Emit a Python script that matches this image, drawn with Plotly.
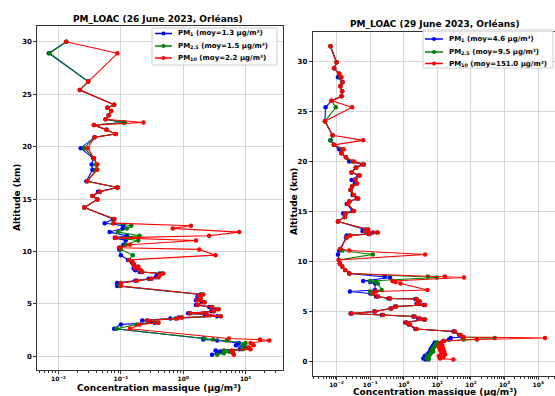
import plotly.graph_objects as go

W, H = 555, 396

# ---------------- Data: 26 June 2023 ----------------
alt_26 = [30.0, 28.9, 26.2, 25.4, 24.0, 23.7, 23.4, 23.0, 22.6, 22.3,
          22.05, 21.6, 21.2, 20.9, 19.85, 18.9, 18.3, 17.8, 16.7, 16.1,
          15.7, 15.3, 14.95, 14.2, 13.1, 12.7, 12.45, 12.2, 11.85, 11.5,
          11.3, 11.05, 10.65, 10.35, 10.2, 9.65, 9.2, 8.95, 8.75, 8.55,
          8.4, 8.2, 8.05, 7.9, 7.75, 7.55, 7.4, 7.2, 7.0, 6.7,
          5.9, 5.7, 5.5, 5.35, 5.15, 4.9, 4.7, 4.5, 4.3, 4.1,
          4.0, 3.83, 3.7, 3.6, 3.43, 3.2, 3.05, 2.63, 1.7, 1.6,
          1.52, 1.27, 1.05, 0.85, 0.67, 0.57, 0.45, 0.3, 0.15]
pm1_26 = [0.0133, 0.0070, 0.030, 0.022, 0.078, 0.061, 0.070, 0.064, 0.057, 0.110,
          0.037, 0.059, 0.082, 0.038, 0.0227, 0.036, 0.034, 0.035, 0.028, 0.087,
          0.043, 0.035, 0.042, 0.026, 0.075, 0.055, 0.11, 0.107, 0.066, 0.126,
          0.080, 0.12, 0.11, 0.094, 0.094, 0.10, 0.13, 0.15, 0.16, 0.18,
          0.16, 0.17, 0.20, 0.42, 0.38, 0.36, 0.28, 0.17, 0.087, 0.087,
          1.9, 1.7, 1.8, 1.6, 2.0, 1.6, 2.6, 3.3, 2.8, 1.2,
          2.2, 3.5, 0.85, 0.62, 0.22, 0.35, 0.10, 0.078, 2.1, 2.1,
          3.5, 7.8, 7.0, 10.0, 8.0, 3.3, 4.0, 3.5, 2.9]
pm25_26 = [0.0133, 0.0072, 0.030, 0.022, 0.078, 0.061, 0.070, 0.064, 0.057, 0.116,
           0.037, 0.059, 0.082, 0.038, 0.026, 0.037, 0.040, 0.040, 0.029, 0.089,
           0.046, 0.035, 0.042, 0.026, 0.079, 0.075, 0.147, 0.125, 0.09, 0.20,
           0.085, 0.19, 0.12, 0.096, 0.10, 0.155, 0.135, 0.155, 0.16, 0.19,
           0.17, 0.20, 0.22, 0.46, 0.42, 0.40, 0.31, 0.18, 0.10, 0.095,
           2.0, 1.8, 1.9, 1.7, 2.2, 1.7, 2.9, 3.7, 3.1, 1.3,
           2.4, 4.0, 0.95, 0.75, 0.26, 0.40, 0.18, 0.085, 2.2, 3.0,
           5.0, 10.0, 9.0, 11.0, 9.0, 4.5, 5.5, 4.5, 3.5]
pm10_26 = [0.0133, 0.088, 0.030, 0.022, 0.078, 0.061, 0.070, 0.064, 0.057, 0.23,
           0.037, 0.059, 0.082, 0.038, 0.0295, 0.037, 0.042, 0.042, 0.029, 0.089,
           0.046, 0.035, 0.042, 0.026, 0.079, 0.077, 1.33, 0.68, 7.9, 2.6,
           0.083, 1.6, 0.14, 0.095, 1.8, 3.3, 0.135, 0.155, 0.16, 0.19,
           0.17, 0.21, 0.22, 0.48, 0.42, 0.40, 0.31, 0.18, 0.10, 0.10,
           2.1, 1.8, 1.9, 1.7, 2.2, 1.7, 2.9, 3.7, 3.1, 1.3,
           2.4, 4.0, 0.95, 0.80, 0.27, 0.40, 0.20, 0.14, 5.4, 17.0,
           24.0, 12.0, 13.5, 11.0, 12.0, 6.0, 6.2, 6.3, 6.5]

# ---------------- Data: 29 June 2023 ----------------
alt_29 = [31.5, 29.9, 29.3, 28.75, 28.4, 27.9, 27.5, 27.0, 26.5, 26.05,
          25.4, 24.0, 22.6, 22.1, 21.65, 21.2, 20.8, 20.4, 20.0, 19.7,
          19.4, 18.9, 18.6, 18.15, 17.8, 17.5, 17.15, 16.65, 16.3, 16.0,
          15.75, 15.05, 14.8, 14.45, 14.0, 13.2, 13.05, 12.9, 12.75, 12.6,
          12.4, 11.25, 11.1, 10.7, 10.15, 9.8, 9.5, 9.15, 8.8, 8.5,
          8.4, 8.05, 7.95, 7.8, 7.15, 7.0, 6.8, 6.5, 6.3, 6.25,
          6.0, 5.8, 5.65, 5.5, 5.3, 5.0, 4.8, 4.65, 4.5, 4.3,
          4.2, 3.9, 3.7, 3.25, 3.0, 2.65, 2.45, 2.35, 2.2, 2.05,
          1.9, 1.75, 1.6, 1.45, 1.3, 1.15, 1.0, 0.85, 0.7, 0.55,
          0.4, 0.3, 0.2]
pm1_29 = [0.0066, 0.010, 0.0085, 0.012, 0.011, 0.015, 0.013, 0.0147, 0.014, 0.0071,
          0.0047, 0.0045, 0.0076, 0.0066, 0.0083, 0.012, 0.014, 0.019, 0.0237, 0.060,
          0.037, 0.028, 0.045, 0.028, 0.035, 0.029, 0.026, 0.030, 0.040, 0.024,
          0.020, 0.030, 0.0157, 0.0177, 0.011, 0.070, 0.059, 0.12, 0.09, 0.020,
          0.019, 0.013, 0.012, 0.011, 0.0117, 0.0125, 0.0147, 0.018, 0.024, 0.27,
          0.39, 0.062, 0.10, 0.14, 0.14, 0.025, 0.10, 0.15, 0.35, 2.2,
          2.7, 2.4, 3.9, 0.55, 0.40, 0.13, 0.026, 0.22, 1.9, 2.7,
          3.9, 1.1, 1.4, 2.2, 30.0, 45.0, 55.0, 25.0, 22.0, 15.0,
          8.5, 8.0, 7.5, 7.0, 6.5, 6.2, 6.5, 5.5, 5.0, 4.2,
          4.5, 3.8, 4.5]
pm25_29 = [0.0066, 0.010, 0.0085, 0.012, 0.013, 0.015, 0.013, 0.0147, 0.014, 0.0071,
           0.0095, 0.0045, 0.0076, 0.0066, 0.0083, 0.015, 0.014, 0.019, 0.030, 0.064,
           0.038, 0.028, 0.049, 0.035, 0.040, 0.029, 0.026, 0.033, 0.044, 0.024,
           0.022, 0.033, 0.018, 0.0177, 0.011, 0.085, 0.070, 0.16, 0.098, 0.024,
           0.020, 0.013, 0.015, 0.12, 0.0117, 0.0125, 0.0147, 0.018, 0.024, 5.2,
           9.6, 0.10, 0.15, 0.17, 0.22, 0.10, 0.11, 0.17, 0.39, 2.4,
           3.0, 2.6, 4.3, 0.6, 0.43, 0.14, 0.028, 0.24, 2.1, 3.0,
           4.3, 1.2, 1.5, 2.4, 33.0, 49.0, 60.0, 510.0, 60.0, 16.0,
           10.0, 9.0, 8.5, 8.0, 7.5, 7.0, 7.5, 6.5, 6.0, 5.0,
           5.5, 4.8, 5.5]
pm10_29 = [0.0066, 0.010, 0.0085, 0.012, 0.014, 0.015, 0.013, 0.0147, 0.014, 0.0071,
           0.029, 0.0045, 0.0076, 0.062, 0.0083, 0.0165, 0.014, 0.019, 0.033, 0.065,
           0.039, 0.028, 0.049, 0.037, 0.041, 0.029, 0.026, 0.033, 0.044, 0.024,
           0.022, 0.033, 0.019, 0.0177, 0.011, 0.087, 0.075, 0.17, 0.098, 0.026,
           0.020, 0.013, 0.024, 4.3, 0.0117, 0.0125, 0.0147, 0.018, 0.024, 16.6,
           62.0, 0.46, 0.56, 0.8, 5.1, 0.15, 0.12, 0.17, 0.39, 2.4,
           3.0, 2.6, 4.3, 0.6, 0.43, 0.14, 0.028, 0.24, 2.1, 3.0,
           4.3, 1.2, 1.5, 2.4, 33.0, 49.0, 60.0, 16000.0, 150.0, 16.0,
           13.0, 12.0, 14.0, 11.0, 15.0, 12.0, 16.0, 13.0, 17.0, 11.0,
           15.0, 12.0, 30.0]

titles = ["PM_LOAC (26 June 2023, Orléans)", "PM_LOAC (29 June 2023, Orléans)"]
labels_26 = ["PM<sub>1</sub> (moy=1.3 µg/m³)", "PM<sub>2.5</sub> (moy=1.5 µg/m³)",
             "PM<sub>10</sub> (moy=2.2 µg/m³)"]
labels_29 = ["PM<sub>1</sub> (moy=4.6 µg/m³)", "PM<sub>2.5</sub> (moy=9.5 µg/m³)",
             "PM<sub>10</sub> (moy=151.0 µg/m³)"]
xlabel = "Concentration massique (µg/m³)"
ylabel = "Altitude (km)"
yticks = [0, 5, 10, 15, 20, 25, 30]
xticks_26 = [0.01, 0.1, 1, 10]
xtext_26 = ["10<sup>−2</sup>", "10<sup>−1</sup>", "10<sup>0</sup>", "10<sup>1</sup>"]
xticks_29 = [0.01, 0.1, 1, 10, 100, 1000, 10000]
xtext_29 = ["10<sup>−2</sup>", "10<sup>−1</sup>", "10<sup>0</sup>", "10<sup>1</sup>",
            "10<sup>2</sup>", "10<sup>3</sup>", "10<sup>4</sup>"]
colors = ["#0000ff", "#008000", "#ff0000"]

FONT = "DejaVu Sans"


def px(x):
    return x / W


def py(y):
    return (H - y) / H


def minor_vals(lo, hi):
    vals = []
    for e in range(lo, hi + 1):
        for m in range(2, 10):
            vals.append(m * 10 ** e)
    return vals


fig = go.Figure()

for xa, ya, alt, series in [("x", "y", alt_26, [pm1_26, pm25_26, pm10_26]),
                            ("x2", "y2", alt_29, [pm1_29, pm25_29, pm10_29])]:
    for vals, col in zip(series, colors):
        fig.add_trace(go.Scatter(
            x=vals, y=alt, xaxis=xa, yaxis=ya, mode="lines+markers",
            line=dict(color=col, width=1.1), marker=dict(color=col, size=4.5),
            showlegend=False, hoverinfo="skip"))

axis_common = dict(showgrid=True, gridcolor="#d6d6d6", gridwidth=1,
                   showline=True, linecolor="#333333", linewidth=1, mirror=True,
                   ticks="outside", ticklen=3, tickwidth=1, tickcolor="#333333",
                   zeroline=False)
yfont = dict(family=FONT, size=7, color="black", weight="bold")
xfont = dict(family=FONT, size=6, color="black", weight="bold")

fig.update_layout(
    width=W, height=H, margin=dict(l=0, r=0, t=0, b=0),
    paper_bgcolor="white", plot_bgcolor="white",
    xaxis=dict(type="log", range=[-2.34, 1.60], domain=[px(37.3), px(283)],
               tickmode="array", tickvals=xticks_26, ticktext=xtext_26, anchor="y",
               tickfont=xfont,
               minor=dict(tickmode="array", tickvals=minor_vals(-3, 1), ticks="outside",
                          ticklen=2, tickcolor="#333333", showgrid=False),
               **axis_common),
    yaxis=dict(range=[-1.3, 31.5], domain=[py(370), py(26)], tickmode="array",
               tickvals=yticks, anchor="x", tickfont=yfont, **axis_common),
    xaxis2=dict(type="log", range=[-2.71, 4.5], domain=[px(312.7), 1.0],
                tickmode="array", tickvals=xticks_29, ticktext=xtext_29, anchor="y2",
                tickfont=xfont,
                minor=dict(tickmode="array", tickvals=minor_vals(-3, 4), ticks="outside",
                           ticklen=2, tickcolor="#333333", showgrid=False),
                **axis_common),
    yaxis2=dict(range=[-1.42, 32.9], domain=[py(375.7), py(32.3)], tickmode="array",
                tickvals=yticks, anchor="x2", tickfont=yfont, **axis_common),
)

annots = []
titlefont = dict(family=FONT, size=9, color="black", weight="bold")
annots.append(dict(text=titles[0], x=px(158), y=py(19), xref="paper", yref="paper",
                   showarrow=False, font=titlefont, xanchor="center", yanchor="middle"))
annots.append(dict(text=titles[1], x=px(435), y=py(24), xref="paper", yref="paper",
                   showarrow=False, font=titlefont, xanchor="center", yanchor="middle"))
annots.append(dict(text=xlabel, x=px(159), y=py(388), xref="paper", yref="paper",
                   showarrow=False, font=titlefont, xanchor="center", yanchor="middle"))
annots.append(dict(text=xlabel, x=px(435), y=py(392), xref="paper", yref="paper",
                   showarrow=False, font=titlefont, xanchor="center", yanchor="middle"))
annots.append(dict(text=ylabel, x=px(17), y=py(198), xref="paper", yref="paper",
                   showarrow=False, font=titlefont, textangle=-90,
                   xanchor="center", yanchor="middle"))
annots.append(dict(text=ylabel, x=px(294), y=py(202), xref="paper", yref="paper",
                   showarrow=False, font=titlefont, textangle=-90,
                   xanchor="center", yanchor="middle"))

shapes = []
legfont = dict(family=FONT, size=7, color="black", weight="bold")
for (bx0, by0, bx1, by1, lx0, lx1, tx, rows, labels) in [
        (152, 28, 277, 65, 155, 172, 176, [33.5, 46, 58], labels_26),
        (423, 30, 553, 68, 425, 443, 447, [39, 52, 63.5], labels_29)]:
    shapes.append(dict(type="rect", xref="paper", yref="paper",
                       x0=px(bx0), x1=px(bx1), y0=py(by1), y1=py(by0),
                       line=dict(color="#cccccc", width=1), fillcolor="rgba(255,255,255,0.85)"))
    for ry, col, lab in zip(rows, colors, labels):
        shapes.append(dict(type="line", xref="paper", yref="paper",
                           x0=px(lx0), x1=px(lx1), y0=py(ry), y1=py(ry),
                           line=dict(color=col, width=1.5)))
        cx = (lx0 + lx1) / 2
        shapes.append(dict(type="circle", xref="paper", yref="paper",
                           x0=px(cx - 2), x1=px(cx + 2), y0=py(ry + 2), y1=py(ry - 2),
                           line=dict(color=col, width=0), fillcolor=col))
        annots.append(dict(text=lab, x=px(tx), y=py(ry), xref="paper", yref="paper",
                           showarrow=False, font=legfont, xanchor="left", yanchor="middle"))

fig.update_layout(annotations=annots, shapes=shapes)
fig.write_html("out.html")
